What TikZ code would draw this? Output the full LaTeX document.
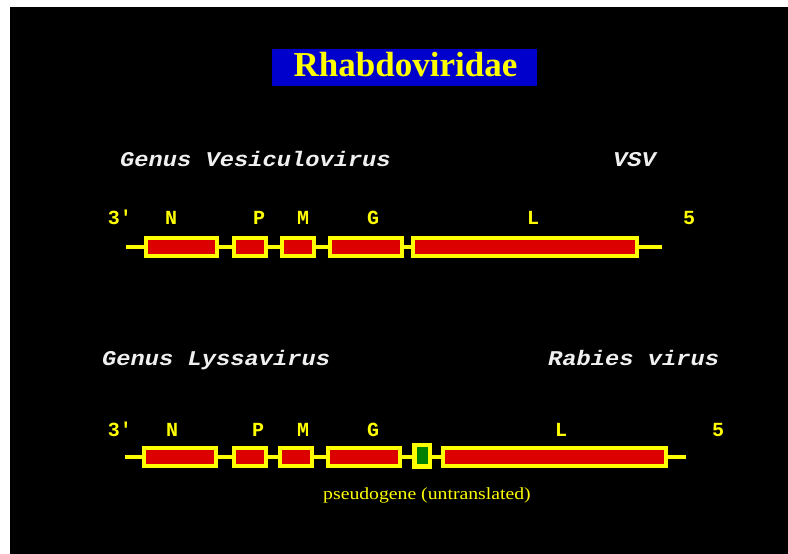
\documentclass[tikz,border=0pt]{standalone}
\usepackage{fontspec}
\setmainfont{Liberation Serif}
\newfontfamily\labelfont{Liberation Mono}
\newfontfamily\genusfont[FakeStretch=1.13]{Liberation Mono}
\newfontfamily\notefont[FakeStretch=1.16]{Liberation Serif}
\definecolor{genered}{RGB}{221,0,0}
\definecolor{titleblue}{RGB}{0,0,204}
\definecolor{pseudogreen}{RGB}{0,128,0}
\definecolor{geneyellow}{RGB}{255,255,0}
\definecolor{genuswhite}{RGB}{240,240,240}

\begin{document}
\begin{tikzpicture}[x=1pt,y=-1pt,
  gene/.style={draw=geneyellow, fill=genered, line width=4pt, inner sep=0pt, minimum height=18pt},
  pseudo/.style={draw=geneyellow, fill=pseudogreen, line width=4.5pt, inner sep=0pt,
                 minimum width=15.5pt, minimum height=21.5pt},
  backbone/.style={draw=geneyellow, line width=4pt},
  genelabel/.style={text=geneyellow, font=\labelfont\bfseries\fontsize{20}{20}\selectfont,
                    inner sep=0pt, anchor=base},
  genus/.style={text=genuswhite, font=\genusfont\bfseries\itshape\fontsize{21}{21}\selectfont,
                inner sep=0pt, anchor=base west},
]
\useasboundingbox (0,0) rectangle (788,554);
\fill[white] (0,0) rectangle (788,554);
\fill[black] (10,7) rectangle (788,554);

% family title
\node[fill=titleblue, minimum width=265pt, minimum height=37pt, inner sep=0pt] (title) at (404.5,67.5) {};
\node[text=geneyellow, font=\bfseries\fontsize{35}{35}\selectfont, inner sep=0pt, anchor=base]
  (titletext) at (405.5,76) {Rhabdoviridae};

% ---------- Vesiculovirus ----------
\node[genus] (genus1) at (120,166) {Genus Vesiculovirus};
\node[genus] (virus1) at (613,166) {VSV};

\node[genelabel] (t1) at (120,224) {3'};
\node[genelabel] (ln1) at (171,224) {N};
\node[genelabel] (lp1) at (259,224) {P};
\node[genelabel] (lm1) at (303,224) {M};
\node[genelabel] (lg1) at (373,224) {G};
\node[genelabel] (ll1) at (533,224) {L};
\node[genelabel] (f1) at (689,224) {5};

\coordinate (s1) at (126,246.5);
\coordinate (e1) at (662,246.5);
\node[gene, minimum width=71pt] (n1) at (181.5,246.5) {};
\node[gene, minimum width=32pt] (p1) at (250,246.5) {};
\node[gene, minimum width=32pt] (m1) at (298,246.5) {};
\node[gene, minimum width=72pt] (g1) at (366,246.5) {};
\node[gene, minimum width=224pt] (l1) at (525,246.5) {};
\draw[backbone] (s1) -- (n1.west) (n1.east) -- (p1.west) (p1.east) -- (m1.west)
  (m1.east) -- (g1.west) (g1.east) -- (l1.west) (l1.east) -- (e1);

% ---------- Lyssavirus ----------
\node[genus] (genus2) at (102,365) {Genus Lyssavirus};
\node[genus] (virus2) at (548,365) {Rabies virus};

\node[genelabel] (t2) at (120,436) {3'};
\node[genelabel] (ln2) at (172,436) {N};
\node[genelabel] (lp2) at (258,436) {P};
\node[genelabel] (lm2) at (303,436) {M};
\node[genelabel] (lg2) at (373,436) {G};
\node[genelabel] (ll2) at (561,436) {L};
\node[genelabel] (f2) at (718,436) {5};

\coordinate (s2) at (125,456.5);
\coordinate (e2) at (686,456.5);
\node[gene, minimum width=72pt] (n2) at (180,456.5) {};
\node[gene, minimum width=32pt] (p2) at (250,456.5) {};
\node[gene, minimum width=32pt] (m2) at (296,456.5) {};
\node[gene, minimum width=72pt] (g2) at (364,456.5) {};
\node[pseudo] (psi) at (422,455.5) {};
\node[gene, minimum width=223pt] (l2) at (554.5,456.5) {};
\draw[backbone] (s2) -- (n2.west) (n2.east) -- (p2.west) (p2.east) -- (m2.west)
  (m2.east) -- (g2.west) (g2.east) -- (psi.west |- g2.east) (psi.east |- l2.west) -- (l2.west)
  (l2.east) -- (e2);

\node[text=geneyellow, font=\notefont\fontsize{17}{17}\selectfont, inner sep=0pt, anchor=base]
  (psinote) at (427,499) {pseudogene (untranslated)};
\end{tikzpicture}
\end{document}
